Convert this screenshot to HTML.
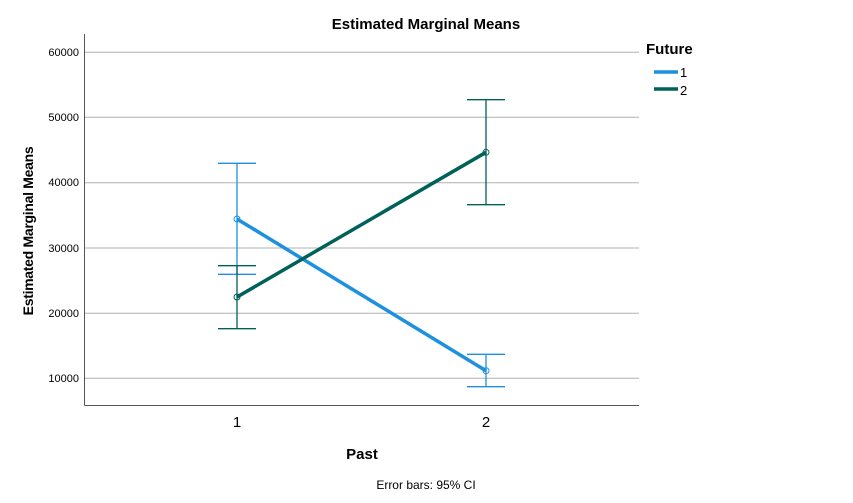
<!DOCTYPE html>
<html><head><meta charset="utf-8"><style>body{margin:0;background:#fff}svg{display:block}text{font-family:"Liberation Sans",Arial,sans-serif}</style></head><body>
<svg width="853" height="503" viewBox="0 0 853 503">
<rect width="853" height="503" fill="#fff"/>
<text x="426" y="29" font-size="15" font-weight="bold" text-anchor="middle">Estimated Marginal Means</text>
<g stroke="#b0b0b0" stroke-width="1">
<line x1="85" x2="639" y1="52.3" y2="52.3"/>
<line x1="85" x2="639" y1="117.3" y2="117.3"/>
<line x1="85" x2="639" y1="182.7" y2="182.7"/>
<line x1="85" x2="639" y1="248" y2="248"/>
<line x1="85" x2="639" y1="313.3" y2="313.3"/>
<line x1="85" x2="639" y1="378.3" y2="378.3"/>
</g>
<line x1="84.5" y1="34" x2="84.5" y2="405.5" stroke="#555" stroke-width="1"/>
<line x1="84.5" y1="405.5" x2="639" y2="405.5" stroke="#555" stroke-width="1"/>
<g font-size="11" text-anchor="end" fill="#000">
<text x="79" y="56">60000</text><text x="79" y="121">50000</text><text x="79" y="186">40000</text><text x="79" y="252">30000</text><text x="79" y="317">20000</text><text x="79" y="382">10000</text>
</g>
<text x="237" y="427" font-size="15" text-anchor="middle">1</text>
<text x="486" y="427" font-size="15" text-anchor="middle">2</text>
<text x="362" y="459" font-size="15" font-weight="bold" text-anchor="middle">Past</text>
<text transform="translate(33,231) rotate(-90)" font-size="14" font-weight="bold" text-anchor="middle" letter-spacing="-0.3">Estimated Marginal Means</text>
<text x="426" y="489" font-size="12" text-anchor="middle">Error bars: 95% CI</text>
<g stroke="#1e90e0" stroke-width="1.3" fill="none">
<line x1="237" y1="163.3" x2="237" y2="274.3"/><line x1="218" y1="163.3" x2="256" y2="163.3"/><line x1="218" y1="274.3" x2="256" y2="274.3"/>
<line x1="486" y1="354.3" x2="486" y2="386.7"/><line x1="467" y1="354.3" x2="505" y2="354.3"/><line x1="467" y1="386.7" x2="505" y2="386.7"/>
</g>
<g stroke="#00605a" stroke-width="1.3" fill="none">
<line x1="237" y1="265.7" x2="237" y2="328.7"/><line x1="218" y1="265.7" x2="256" y2="265.7"/><line x1="218" y1="328.7" x2="256" y2="328.7"/>
<line x1="486" y1="99.7" x2="486" y2="204.7"/><line x1="467" y1="99.7" x2="505" y2="99.7"/><line x1="467" y1="204.7" x2="505" y2="204.7"/>
</g>
<line x1="237" y1="219" x2="486" y2="370.7" stroke="#1e90e0" stroke-width="3.5"/>
<line x1="237" y1="297" x2="486" y2="152.3" stroke="#00605a" stroke-width="3.5"/>
<circle cx="237" cy="219" r="3" fill="none" stroke="#1e90e0" stroke-width="1"/>
<circle cx="486" cy="370.7" r="3" fill="none" stroke="#1e90e0" stroke-width="1"/>
<circle cx="237" cy="297" r="3" fill="none" stroke="#00605a" stroke-width="1"/>
<circle cx="486" cy="152.3" r="3" fill="none" stroke="#00605a" stroke-width="1"/>
<text x="646" y="54" font-size="15" font-weight="bold">Future</text>
<line x1="654" y1="72" x2="678" y2="72" stroke="#1e90e0" stroke-width="3.5"/>
<text x="680" y="77" font-size="13">1</text>
<line x1="654" y1="89" x2="678" y2="89" stroke="#00605a" stroke-width="3.5"/>
<text x="680" y="95" font-size="13">2</text>
</svg>
</body></html>
